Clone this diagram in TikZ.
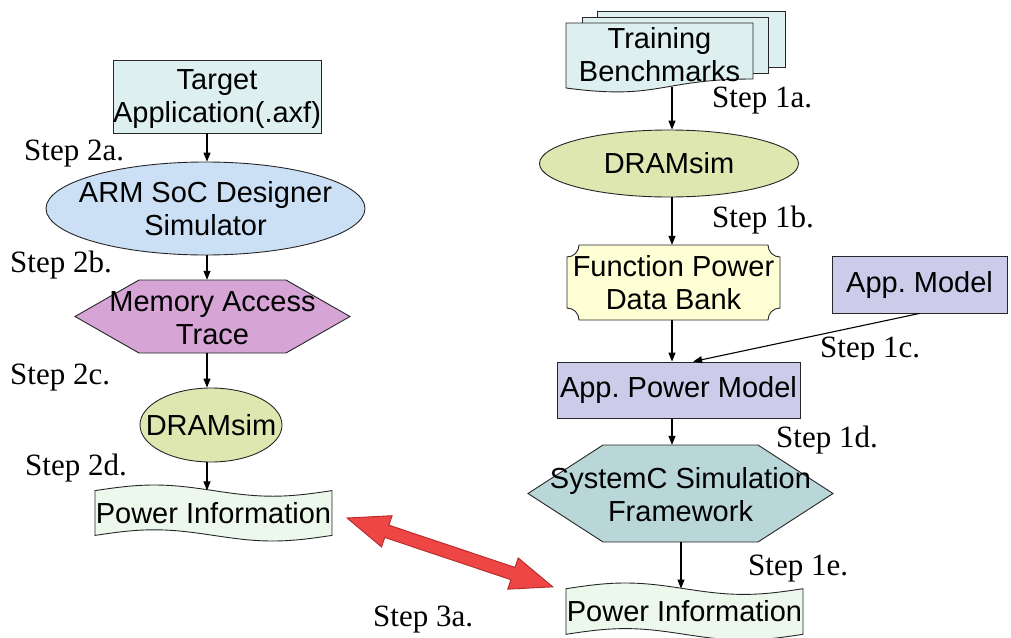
\documentclass[tikz,border=0pt]{standalone}
\usepackage{fontspec}
\setmainfont{Liberation Serif}
\setsansfont{Liberation Sans}
\usetikzlibrary{shapes.geometric,arrows.meta,calc}
\frenchspacing

\definecolor{cyanbg}{HTML}{DDEFEF}
\definecolor{armblue}{HTML}{CCE0F5}
\definecolor{memviolet}{HTML}{D6A5D6}
\definecolor{dramgreen}{HTML}{DEE7B0}
\definecolor{tapegreen}{HTML}{EDF8EC}
\definecolor{bankyellow}{HTML}{FFFFD5}
\definecolor{lavender}{HTML}{CCCCEA}
\definecolor{syscteal}{HTML}{B9D7D8}
\definecolor{redfill}{HTML}{EE4545}
\definecolor{redline}{HTML}{B52A2A}

% punched-tape outline: x0, y0, width, height, fill colour
\newcommand{\drawtape}[5]{%
  \draw[shp, fill=#5] (#1,{#2+0.1*#4}) sin ({#1+0.25*#3},#2) cos ({#1+0.5*#3},{#2+0.1*#4})
    sin ({#1+0.75*#3},{#2+0.2*#4}) cos ({#1+#3},{#2+0.1*#4})
    -- ({#1+#3},{#2+0.9*#4}) sin ({#1+0.75*#3},{#2+#4}) cos ({#1+0.5*#3},{#2+0.9*#4})
    sin ({#1+0.25*#3},{#2+0.8*#4}) cos (#1,{#2+0.9*#4}) -- cycle;}

\begin{document}
\begin{tikzpicture}[x=1pt,y=-1pt,
  shp/.style={draw=black!85, line width=0.9pt},
  sans/.style={font=\sffamily\fontsize{29}{33}\selectfont, align=center, inner sep=0pt},
  steplbl/.style={font=\rmfamily\fontsize{31}{34}\selectfont, anchor=base west, inner sep=0pt},
  arr/.style={line width=1.1pt, -{Triangle[length=9pt,width=7pt]}},
  rectbox/.style={shp, rectangle, inner sep=0pt},
  ellbox/.style={shp, ellipse, inner sep=0pt},
  ghost/.style={rectangle, inner sep=0pt},
]
\useasboundingbox (0,0) rectangle (1011,637);

% ---------- left flow ----------
\node[rectbox, fill=cyanbg, minimum width=208, minimum height=73] (tgt) at (217,96.5) {};
\node[sans] at (217,99.5) {Target\\Application(.axf)};

\node[ellbox, fill=armblue, minimum width=319, minimum height=93] (arm) at (205.5,208.5) {};
\node[sans] at (arm) {ARM SoC Designer\\Simulator};

\node[ghost, minimum width=275, minimum height=73] (mem) at (212.5,316.5) {};
\draw[shp, fill=memviolet] (75,316.5) -- (139,280) -- (286,280) -- (350,316.5) -- (286,353) -- (139,353) -- cycle;
\node[sans] at (212.5,318) {Memory Access\\Trace};

\node[ellbox, fill=dramgreen, minimum width=142, minimum height=74] (dl) at (211,425) {};
\node[sans] at (dl) {DRAMsim};

\drawtape{95}{485}{237}{56}{tapegreen}
\node[ghost, minimum width=237, minimum height=44.8] (pil) at (213.5,513) {};
\node[sans] at (pil) {Power Information};

% ---------- right flow ----------
\draw[shp, fill=cyanbg] (597,11) rectangle (785,67);
\draw[shp, fill=cyanbg] (582,17) rectangle (768,73);
\draw[shp, fill=cyanbg] (566,23) -- (753,23) -- (753,79) .. controls (659.5,79) and (659.5,100.5) .. (566,88) -- cycle;
\node[ghost, minimum width=187, minimum height=63.5] (tb) at (659.5,54.75) {};
\node[sans] at (tb) {Training\\Benchmarks};

\node[ellbox, fill=dramgreen, minimum width=259, minimum height=67] (dr) at (669,163.5) {};
\node[sans] at (dr) {DRAMsim};

\node[ghost, minimum width=213, minimum height=75] (fp) at (673.5,282.5) {};
\draw[shp, fill=bankyellow] (579,245) -- (768,245) arc[start angle=180, end angle=90, radius=12]
  -- (780,308) arc[start angle=270, end angle=180, radius=12]
  -- (579,320) arc[start angle=0, end angle=-90, radius=12]
  -- (567,257) arc[start angle=90, end angle=0, radius=12] -- cycle;
\node[sans] at (fp) {Function Power\\Data Bank};

\node[rectbox, fill=lavender, minimum width=175, minimum height=57] (am) at (919.5,284.5) {};
\node[sans] at (am) {App. Model};

\node[rectbox, fill=lavender, minimum width=243, minimum height=56] (ap) at (678.5,390) {};
\node[sans] at (ap) {App. Power Model};

\node[ghost, minimum width=305, minimum height=97] (sc) at (680.5,493.5) {};
\draw[shp, fill=syscteal] (528,493.5) -- (603,445) -- (758,445) -- (833,493.5) -- (758,542) -- (603,542) -- cycle;
\node[sans] at (680.5,495) {SystemC Simulation\\Framework};

\drawtape{566}{583}{237}{57}{tapegreen}
\node[ghost, minimum width=237, minimum height=45.6] (pir) at (684.5,611.5) {};
\node[sans] at (pir) {Power Information};

% ---------- connectors ----------
\coordinate (colL) at (207,0);
\coordinate (colR) at (672,0);
\coordinate (colRb) at (681,0);
\draw[arr] (tgt.south -| colL) -- (arm.north -| colL);
\draw[arr] (arm.south -| colL) -- (mem.north -| colL);
\draw[arr] (mem.south -| colL) -- (dl.north -| colL);
\draw[arr] (dl.south -| colL) -- (pil.north -| colL);

\draw[arr] (tb.south -| colR) -- (dr.north -| colR);
\draw[arr] (dr.south -| colR) -- (fp.north -| colR);
\draw[arr] (fp.south -| colR) -- (ap.north -| colR);
\draw[arr] (am.south) -- ($(ap.north west)!0.56!(ap.north east)$);
\draw[arr] (ap.south -| colR) -- (sc.north -| colR);
\draw[arr] (sc.south -| colRb) -- (pir.north -| colRb);

% comparison arrow between the two power results
\coordinate (ra) at (347,518);
\coordinate (rb) at (553,587);
\begin{scope}[shift={(ra)}, rotate=-18.5]
  \draw[draw=redline, fill=redfill, line width=0.9pt, line join=miter]
    (0,0) -- (42,-16.5) -- (42,-6.5) -- (175,-6.5) -- (175,-16.5) -- (217,0)
    -- (175,16.5) -- (175,6.5) -- (42,6.5) -- (42,16.5) -- cycle;
\end{scope}

% ---------- step labels ----------
\node[steplbl] (s2a) at (24,160) {Step 2a.};
\node[steplbl] (s2b) at (10,272) {Step 2b.};
\node[steplbl] (s2c) at (10,384) {Step 2c.};
\node[steplbl] (s2d) at (25,475) {Step 2d.};
\node[steplbl] (s1a) at (712,107) {Step 1a.};
\node[steplbl] (s1b) at (712,227) {Step 1b.};
\begin{scope}
  \clip (800,320) rectangle (1011,359);
  \node[steplbl] (s1c) at (820,357) {Step 1c.};
\end{scope}
\node[steplbl] (s1d) at (776,447) {Step 1d.};
\node[steplbl] (s1e) at (748,575) {Step 1e.};
\node[steplbl] (s3a) at (373,626) {Step 3a.};
\end{tikzpicture}
\end{document}
